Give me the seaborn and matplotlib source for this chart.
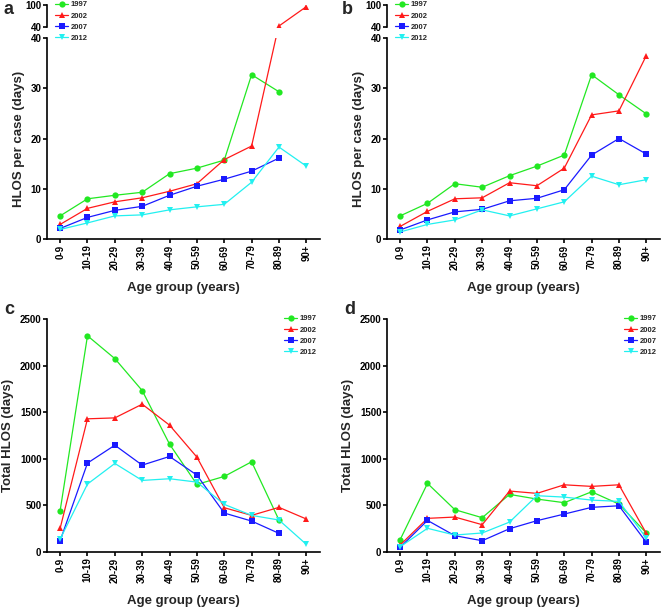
import numpy as np
import pandas as pd
import matplotlib
matplotlib.use("Agg")
import matplotlib.pyplot as plt
import seaborn as sns

# --- data ---
ages = ["0-9", "10-19", "20-29", "30-39", "40-49", "50-59", "60-69", "70-79", "80-89", "90+"]
years = ["1997", "2002", "2007", "2012"]
nan = np.nan

# panel a: HLOS per case
a_1997 = [4.6, 8.0, 8.7, 9.3, 13.0, 14.1, 15.7, 32.7, 29.3, nan]
a_2002 = [2.9, 6.1, 7.4, 8.2, 9.5, 11.0, 15.8, 18.5, 42.7, 95.5]
a_2007 = [2.1, 4.3, 5.7, 6.5, 8.7, 10.5, 11.9, 13.5, 16.1, nan]
a_2012 = [1.9, 3.2, 4.6, 4.8, 5.8, 6.4, 6.9, 11.3, 18.3, 14.5]

# panel b: HLOS per case
b_1997 = [4.6, 7.1, 11.0, 10.3, 12.6, 14.5, 16.7, 32.7, 28.7, 24.9]
b_2002 = [2.5, 5.5, 8.0, 8.2, 11.2, 10.6, 14.1, 24.7, 25.5, 36.5]
b_2007 = [1.8, 3.8, 5.4, 5.9, 7.6, 8.1, 9.8, 16.7, 20.0, 16.9]
b_2012 = [1.4, 2.9, 3.8, 5.8, 4.6, 6.0, 7.4, 12.5, 10.8, 11.8]

# panel c: total HLOS
c_1997 = [443, 2320, 2075, 1732, 1157, 725, 811, 968, 343, nan]
c_2002 = [254, 1429, 1439, 1586, 1361, 1018, 475, 393, 479, 354]
c_2007 = [121, 954, 1146, 932, 1025, 825, 418, 332, 200, nan]
c_2012 = [139, 729, 950, 768, 786, 750, 511, 393, 343, 82]

# panel d: total HLOS
d_1997 = [132, 736, 454, 368, 618, 568, 529, 646, 514, 204]
d_2002 = [75, 361, 375, 293, 654, 629, 721, 704, 721, 200]
d_2007 = [50, 339, 175, 121, 250, 336, 407, 479, 496, 104]
d_2012 = [57, 254, 182, 204, 321, 604, 589, 557, 543, 150]

colors = {"1997": "#22e822", "2002": "#ff1a1a", "2007": "#1a1aff", "2012": "#22f0f0"}
markers = {"1997": "o", "2002": "^", "2007": "s", "2012": "v"}

sns.set_theme(style="ticks")
plt.rcParams["font.family"] = ["Liberation Sans", "DejaVu Sans"]
plt.rcParams["font.weight"] = "bold"


def long_df(series):
    rows = []
    for yr, vals in zip(years, series):
        for i, v in enumerate(vals):
            rows.append({"pos": i, "year": yr, "value": v})
    return pd.DataFrame(rows).dropna()


def draw(ax, df):
    sns.lineplot(data=df, x="pos", y="value", hue="year", style="year",
                 palette=colors, markers=markers, dashes=False,
                 markersize=4.5, markeredgewidth=0, linewidth=0.9,
                 estimator=None, sort=False, ax=ax, legend=True)
    handles, labels = ax.get_legend_handles_labels()
    ax.get_legend().remove()
    return handles, labels


def style_axes(ax, xlabels=True):
    for s in ["top", "right"]:
        ax.spines[s].set_visible(False)
    for s in ["left", "bottom"]:
        ax.spines[s].set_linewidth(1.2)
        ax.spines[s].set_color("black")
    ax.tick_params(axis="both", width=1.2, length=3, labelsize=7, pad=1, colors="black")
    ax.set_xlim(-0.48, 9.5)
    ax.set_xticks(range(len(ages)))
    if xlabels:
        ax.set_xticklabels(ages, rotation=90, fontweight="bold")
        ax.set_xlabel("Age group (years)", fontsize=9.5, fontweight="bold", labelpad=9)
    for t in ax.get_yticklabels():
        t.set_fontweight("bold")


fig = plt.figure(figsize=(6.61, 6.09), dpi=100)
W, H = 661, 609


def rect(x0, y0, x1, y1):
    return [x0 / W, 1 - y1 / H, (x1 - x0) / W, (y1 - y0) / H]


def leg(handles, labels, x, y):
    fig.legend(handles, labels, loc="upper left", bbox_to_anchor=(x / W, 1 - y / H),
               frameon=False, handlelength=1.75, handletextpad=0.35,
               labelspacing=0.5, borderpad=0, borderaxespad=0,
               prop={"weight": "bold", "size": 5.5})


# top panels with broken axis
for series, x0, letter, lx in [
    ([a_1997, a_2002, a_2007, a_2012], 47, "a", 4),
    ([b_1997, b_2002, b_2007, b_2012], 387, "b", 342),
]:
    df = long_df(series)
    low = fig.add_axes(rect(x0, 38, x0 + 273, 239))
    high = fig.add_axes(rect(x0, 5, x0 + 273, 27))
    handles, labels = draw(low, df)
    upper = df[df["value"] >= 40]
    if len(upper):
        draw(high, upper)
    style_axes(low)
    low.set_ylim(0, 40)
    low.set_yticks([0, 10, 20, 30, 40])
    low.set_ylabel("HLOS per case (days)", fontsize=9.5, fontweight="bold", labelpad=4)
    style_axes(high, xlabels=False)
    high.set_ylim(40, 100)
    high.set_yticks([40, 100])
    high.spines["bottom"].set_visible(False)
    high.tick_params(axis="x", bottom=False, labelbottom=False)
    high.set_xlabel("")
    high.set_ylabel("")
    leg(handles, labels, x0 + 8, 1)
    fig.text(lx / W, 1 - 10 / H, letter, fontsize=13, fontweight="bold", va="center")

# bottom panels
for series, x0, letter, lx in [
    ([c_1997, c_2002, c_2007, c_2012], 47, "c", 4),
    ([d_1997, d_2002, d_2007, d_2012], 387, "d", 344),
]:
    df = long_df(series)
    ax = fig.add_axes(rect(x0, 319, x0 + 273, 552))
    handles, labels = draw(ax, df)
    style_axes(ax)
    ax.set_ylim(0, 2500)
    ax.set_yticks([0, 500, 1000, 1500, 2000, 2500])
    ax.set_ylabel("Total HLOS (days)", fontsize=9.5, fontweight="bold", labelpad=4)
    leg(handles, labels, x0 + 237, 315)
    fig.text(lx / W, 1 - 309 / H, letter, fontsize=13, fontweight="bold", va="center")

plt.savefig("out.png", dpi=100)
